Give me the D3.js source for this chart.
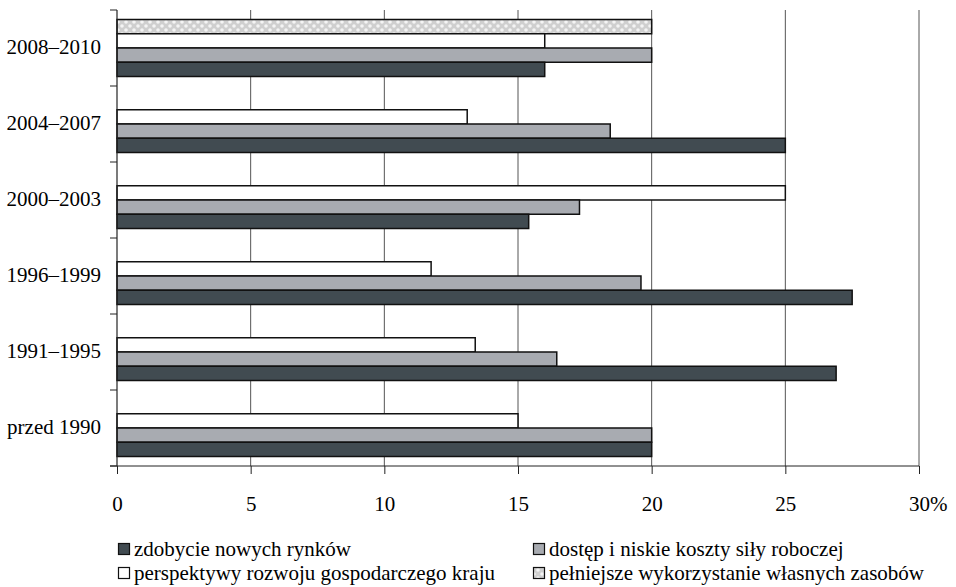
<!DOCTYPE html>
<html><head><meta charset="utf-8">
<script src="https://cdn.jsdelivr.net/npm/d3@7"></script>
<style>body{margin:0;background:#fff}svg{display:block}</style>
</head><body><svg id="c" width="956" height="587" font-family="'Liberation Serif', 'Times New Roman', Times, serif"></svg>
<script>
const categories = ["2008–2010","2004–2007","2000–2003","1996–1999","1991–1995","przed 1990"];
const seriesNames = ["pełniejsze wykorzystanie własnych zasobów","perspektywy rozwoju gospodarczego kraju","dostęp i niskie koszty siły roboczej","zdobycie nowych rynków"];
const zasoby   = [20, null, null, null, null, null];
const perspekt = [16, 13.1, 25, 11.75, 13.4, 15];
const dostep   = [20, 18.45, 17.3, 19.6, 16.45, 20];
const rynki    = [16, 25, 15.4, 27.5, 26.9, 20];
const xTicks = [0,5,10,15,20,25,30];
const xTickLabels = ["0","5","10","15","20","25","30"];
const legendOrder = ["zdobycie nowych rynków","dostęp i niskie koszty siły roboczej","perspektywy rozwoju gospodarczego kraju","pełniejsze wykorzystanie własnych zasobów"];

const FONT = "'Liberation Serif', 'Times New Roman', Times, serif";
const svg = d3.select("#c");
const L=117, R=919, T=10, B=466;
const defs = svg.append("defs");
const pat = defs.append("pattern").attr("id","pz").attr("patternUnits","userSpaceOnUse").attr("width",8).attr("height",8);
pat.append("rect").attr("width",8).attr("height",8).attr("fill","#cfcfcf");
pat.append("circle").attr("cx",2).attr("cy",2).attr("r",1.8).attr("fill","#f4f4f4");
pat.append("circle").attr("cx",6).attr("cy",6).attr("r",1.8).attr("fill","#f4f4f4");
const fills = ["url(#pz)","#ffffff","#a8abb1","#414b51"];
const seriesData = [zasoby, perspekt, dostep, rynki];

const x = d3.scaleLinear().domain([0,30]).range([L,R]);
const y = d3.scaleBand().domain(categories).range([T,B]).paddingInner(0.25).paddingOuter(0.125);
const yBand = d3.scaleBand().domain(categories).range([T,B]);
const ys = d3.scaleBand().domain(d3.range(4)).range([0,y.bandwidth()]);

svg.append("g").selectAll("line").data(xTicks.slice(1)).join("line")
  .attr("x1",d=>x(d)).attr("x2",d=>x(d)).attr("y1",T).attr("y2",B)
  .attr("stroke","#555").attr("stroke-width",1);

seriesData.forEach((arr,si)=>{
  svg.append("g").selectAll("rect").data(categories.map((c,i)=>({c,v:arr[i]})).filter(d=>d.v!=null)).join("rect")
    .attr("x",x(0)).attr("y",d=>y(d.c)+ys(si)).attr("height",ys.bandwidth())
    .attr("width",d=>x(d.v)-x(0)).attr("fill",fills[si])
    .attr("stroke","#111").attr("stroke-width",1.5);
});

const ya = svg.append("g");
ya.append("line").attr("x1",L).attr("x2",L).attr("y1",T).attr("y2",B).attr("stroke","#222").attr("stroke-width",1.2);
const bounds = categories.map(c=>yBand(c)).concat([B]);
ya.selectAll("line.t").data(bounds).join("line").attr("class","t")
  .attr("x1",L-7).attr("x2",L).attr("y1",d=>d).attr("y2",d=>d).attr("stroke","#222");
ya.selectAll("text").data(categories).join("text")
  .attr("x",L-16).attr("y",d=>yBand(d)+yBand.bandwidth()/2+6)
  .attr("text-anchor","end").attr("font-size",21).attr("fill","#000").attr("font-family",FONT).text(d=>d);

const xa = svg.append("g").attr("transform",`translate(0,${B})`)
  .call(d3.axisBottom(x).tickValues(xTicks).tickSize(8).tickPadding(22).tickFormat((d,i)=>xTickLabels[i]));
xa.attr("font-family",FONT).attr("font-size",21);
xa.select(".domain").attr("stroke","#222").attr("d",`M${L-7},0H${R}`);
xa.selectAll(".tick line").attr("stroke","#222");
xa.selectAll(".tick text").attr("fill","#000");
xa.append("text").attr("x",x(30)+11).attr("y",8+22).attr("dy","0.71em").attr("fill","#000").attr("text-anchor","start").text("%");

const lx=[118,533], lyy=[549,573];
const lg = svg.append("g").attr("font-family",FONT);
legendOrder.forEach((name,i)=>{
  const si = seriesNames.indexOf(name);
  const gx = lx[i%2], gy = lyy[Math.floor(i/2)];
  lg.append("rect").attr("x",gx+0.5).attr("y",gy-5.5).attr("width",11).attr("height",11)
    .attr("fill",fills[si]).attr("stroke","#111").attr("stroke-width",1.2);
  lg.append("text").attr("x",gx+16).attr("y",gy+7).attr("font-size",21).attr("fill","#000").text(name);
});
</script></body></html>
